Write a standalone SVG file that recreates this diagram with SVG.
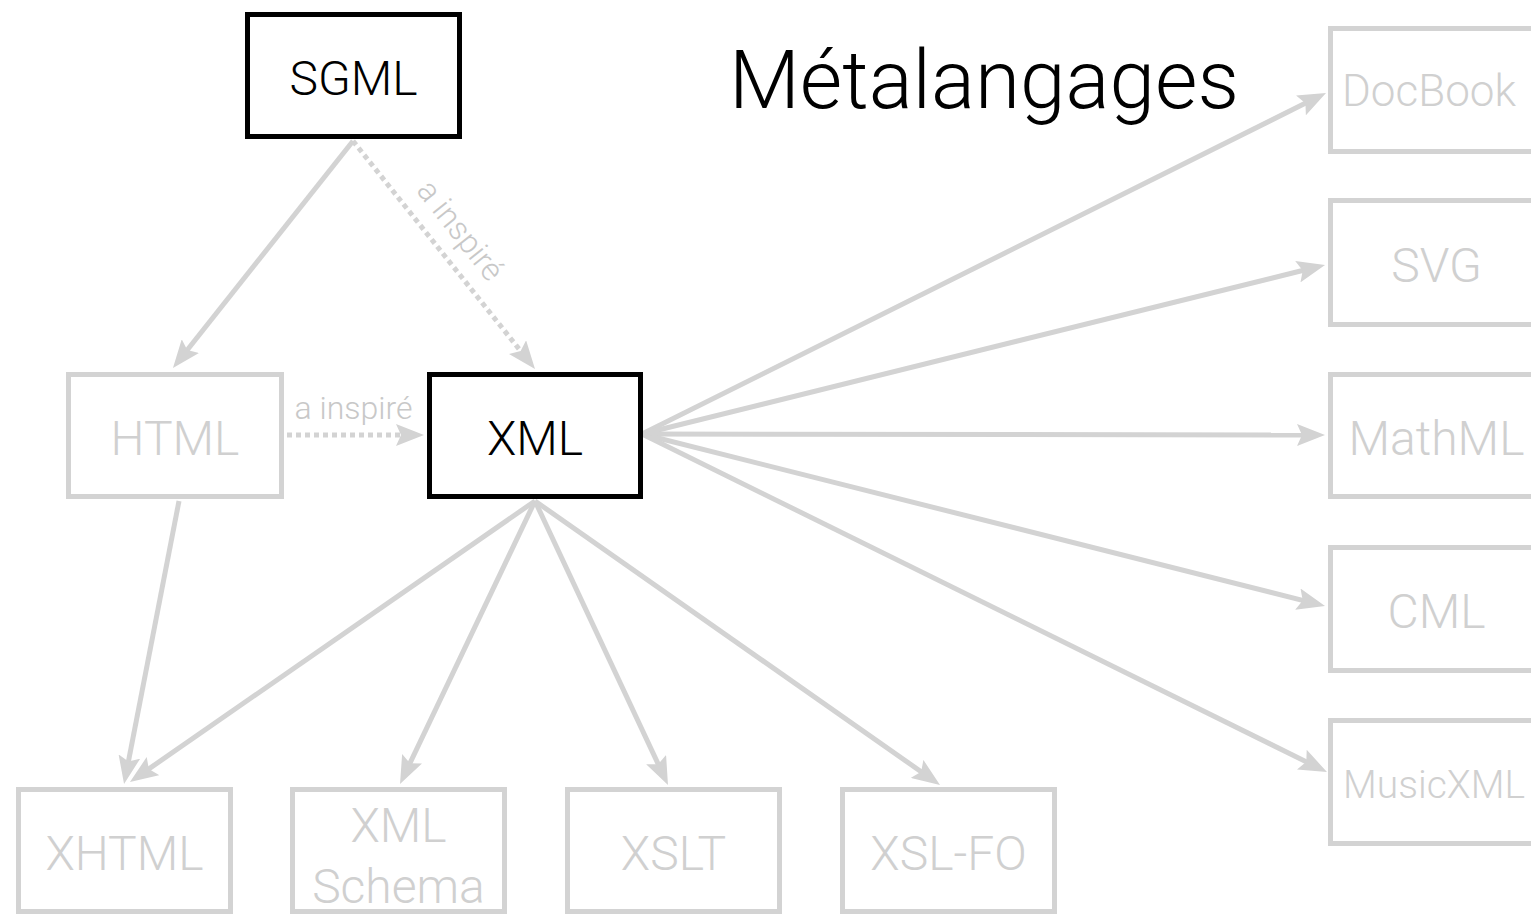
<svg xmlns="http://www.w3.org/2000/svg" width="1531" height="916" viewBox="0 0 1531 916">
<style>
.box{fill:#fff;stroke:#d3d3d3;stroke-width:5}
.box.dark{stroke:#000}
.lbl{font-family:Roboto,"Liberation Sans",Arial,sans-serif;font-weight:300;font-size:48px;fill:#d0d0d0;text-anchor:middle}
.lbl.dark{fill:#000}
.edge{fill:none;stroke:#d3d3d3;stroke-width:5}
.dot{stroke-dasharray:5,4}
.elbl{font-family:Roboto,"Liberation Sans",Arial,sans-serif;font-weight:300;font-size:32px;fill:#c8c8c8;text-anchor:middle}
.title{font-family:Roboto,"Liberation Sans",Arial,sans-serif;font-weight:300;font-size:82px;fill:#000;text-anchor:middle}
</style>
<defs>
<marker id="ah" markerUnits="userSpaceOnUse" markerWidth="28" markerHeight="22" viewBox="0 0 28 22" refX="12" refY="11" orient="auto">
<path d="M0,0 L28,11 L0,22 L5,11 Z" fill="#d3d3d3"/>
</marker>
</defs>
<rect width="1531" height="916" fill="#fff"/>
<text class="title" x="984" y="108">Métalangages</text>
<g id="connectors">
<line class="edge" x1="353" y1="141" x2="182.9" y2="355.5" marker-end="url(#ah)"/>
<line class="edge dot" x1="353" y1="141" x2="525" y2="356.5" marker-end="url(#ah)"/>
<text class="elbl" transform="translate(452,237) rotate(51.6)">a inspiré</text>
<line class="edge dot" x1="287" y1="435" x2="408" y2="435" marker-end="url(#ah)"/>
<text class="elbl" x="353.5" y="419">a inspiré</text>
<line class="edge" x1="179" y1="501" x2="127.1" y2="768.3" marker-end="url(#ah)"/>
<line class="edge" x1="535" y1="501" x2="143.1" y2="772.9" marker-end="url(#ah)"/>
<line class="edge" x1="535" y1="501" x2="406.9" y2="769.6" marker-end="url(#ah)"/>
<line class="edge" x1="535" y1="501" x2="661.2" y2="770.5" marker-end="url(#ah)"/>
<line class="edge" x1="535" y1="501" x2="926.9" y2="775.8" marker-end="url(#ah)"/>
<line class="edge" x1="642" y1="434" x2="1311.7" y2="100.1" marker-end="url(#ah)"/>
<line class="edge" x1="642" y1="434" x2="1309.5" y2="268.8" marker-end="url(#ah)"/>
<line class="edge" x1="642" y1="434" x2="1309" y2="435" marker-end="url(#ah)"/>
<line class="edge" x1="642" y1="434" x2="1309.5" y2="602.1" marker-end="url(#ah)"/>
<line class="edge" x1="642" y1="434" x2="1312.6" y2="764.9" marker-end="url(#ah)"/>
</g>
<g id="sgml"><rect class="box dark" x="247.5" y="14.5" width="212" height="122"/><text class="lbl dark" x="353.5" y="95">SGML</text></g>
<g id="html"><rect class="box" x="68.5" y="374.5" width="213" height="122"/><text class="lbl" x="175" y="455">HTML</text></g>
<g id="xml"><rect class="box dark" x="429.5" y="374.5" width="211" height="122"/><text class="lbl dark" x="535" y="455">XML</text></g>
<g id="xhtml"><rect class="box" x="18.5" y="789.5" width="212" height="122"/><text class="lbl" x="124.5" y="870">XHTML</text></g>
<g id="xmlschema"><rect class="box" x="292.5" y="789.5" width="212" height="122"/><text class="lbl" x="398.5" y="842">XML</text><text class="lbl" x="398.5" y="903">Schema</text></g>
<g id="xslt"><rect class="box" x="567.5" y="789.5" width="212" height="122"/><text class="lbl" x="673.5" y="870">XSLT</text></g>
<g id="xslfo"><rect class="box" x="842.5" y="789.5" width="212" height="122"/><text class="lbl" x="948.5" y="870">XSL-FO</text></g>
<g id="docbook"><rect class="box" x="1330.5" y="28.5" width="212" height="123"/><text class="lbl" x="1342" y="106" style="text-anchor:start;font-size:44px">DocBook</text></g>
<g id="svg"><rect class="box" x="1330.5" y="200.5" width="212" height="124"/><text class="lbl" x="1436.5" y="282">SVG</text></g>
<g id="mathml"><rect class="box" x="1330.5" y="374.5" width="212" height="122"/><text class="lbl" x="1436.5" y="455">MathML</text></g>
<g id="cml"><rect class="box" x="1330.5" y="547.5" width="212" height="123"/><text class="lbl" x="1436.5" y="628">CML</text></g>
<g id="musicxml"><rect class="box" x="1330.5" y="720.5" width="212" height="123"/><text class="lbl" x="1434" y="798" style="font-size:39px">MusicXML</text></g>
</svg>
